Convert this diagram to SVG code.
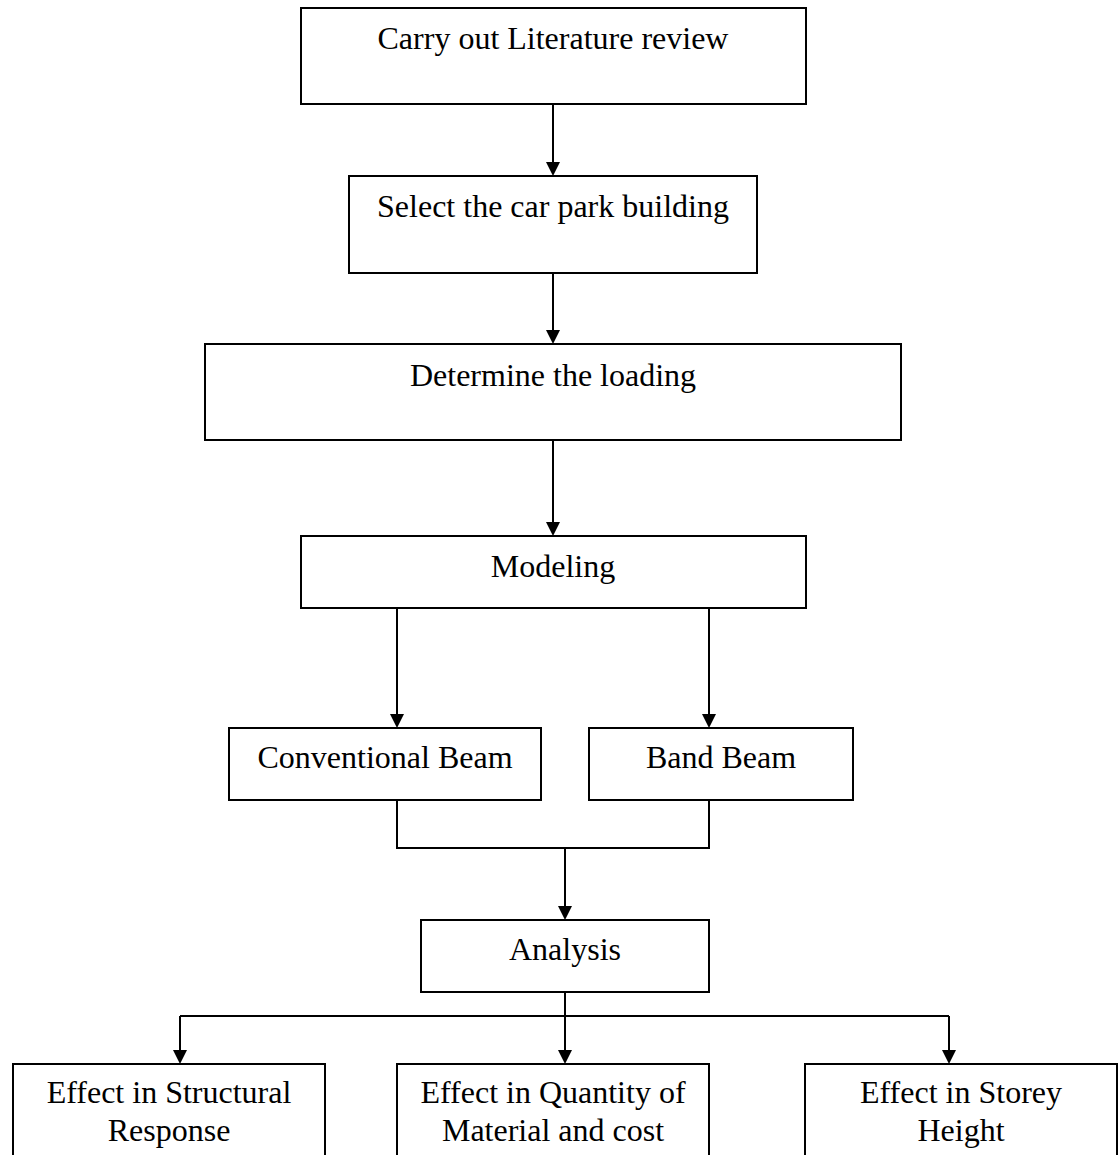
<svg xmlns="http://www.w3.org/2000/svg" width="1118" height="1155" viewBox="0 0 1118 1155">
<defs>
<style>
.box{fill:#fff;stroke:#000;stroke-width:2}
.lbl{font-family:"Liberation Serif","Times New Roman",serif;font-size:32px;fill:#000;text-anchor:middle}
.con{fill:none;stroke:#000;stroke-width:2}
</style>
<marker id="ah" viewBox="0 0 14 14" refX="12" refY="7" markerWidth="14" markerHeight="14" markerUnits="userSpaceOnUse" orient="auto">
<path d="M0,0 L14,7 L0,14 z" fill="#000"/>
</marker>
</defs>
<rect width="1118" height="1155" fill="#fff"/>
<g id="connectors">
<path class="con" d="M553,104 V174" marker-end="url(#ah)"/>
<path class="con" d="M553,273 V342" marker-end="url(#ah)"/>
<path class="con" d="M553,440 V534" marker-end="url(#ah)"/>
<path class="con" d="M397,608 V726" marker-end="url(#ah)"/>
<path class="con" d="M709,608 V726" marker-end="url(#ah)"/>
<path class="con" d="M397,800 V848 H709 V800"/>
<path class="con" d="M565,848 V918" marker-end="url(#ah)"/>
<path class="con" d="M565,992 V1062" marker-end="url(#ah)"/>
<path class="con" d="M180,1016 H949"/>
<path class="con" d="M180,1016 V1062" marker-end="url(#ah)"/>
<path class="con" d="M949,1016 V1062" marker-end="url(#ah)"/>
</g>
<g id="n1"><rect class="box" x="301" y="8" width="505" height="96"/><text class="lbl" x="553" y="49">Carry out Literature review</text></g>
<g id="n2"><rect class="box" x="349" y="176" width="408" height="97"/><text class="lbl" x="553" y="217">Select the car park building</text></g>
<g id="n3"><rect class="box" x="205" y="344" width="696" height="96"/><text class="lbl" x="553" y="386">Determine the loading</text></g>
<g id="n4"><rect class="box" x="301" y="536" width="505" height="72"/><text class="lbl" x="553" y="577">Modeling</text></g>
<g id="n5"><rect class="box" x="229" y="728" width="312" height="72"/><text class="lbl" x="385" y="768">Conventional Beam</text></g>
<g id="n6"><rect class="box" x="589" y="728" width="264" height="72"/><text class="lbl" x="721" y="768">Band Beam</text></g>
<g id="n7"><rect class="box" x="421" y="920" width="288" height="72"/><text class="lbl" x="565" y="960">Analysis</text></g>
<g id="n8"><rect class="box" x="13" y="1064" width="312" height="110"/><text class="lbl" y="1103"><tspan x="169">Effect in Structural</tspan><tspan x="169" y="1141">Response</tspan></text></g>
<g id="n9"><rect class="box" x="397" y="1064" width="312" height="110"/><text class="lbl" y="1103"><tspan x="553">Effect in Quantity of</tspan><tspan x="553" y="1141">Material and cost</tspan></text></g>
<g id="n10"><rect class="box" x="805" y="1064" width="312" height="110"/><text class="lbl" y="1103"><tspan x="961">Effect in Storey</tspan><tspan x="961" y="1141">Height</tspan></text></g>
</svg>
